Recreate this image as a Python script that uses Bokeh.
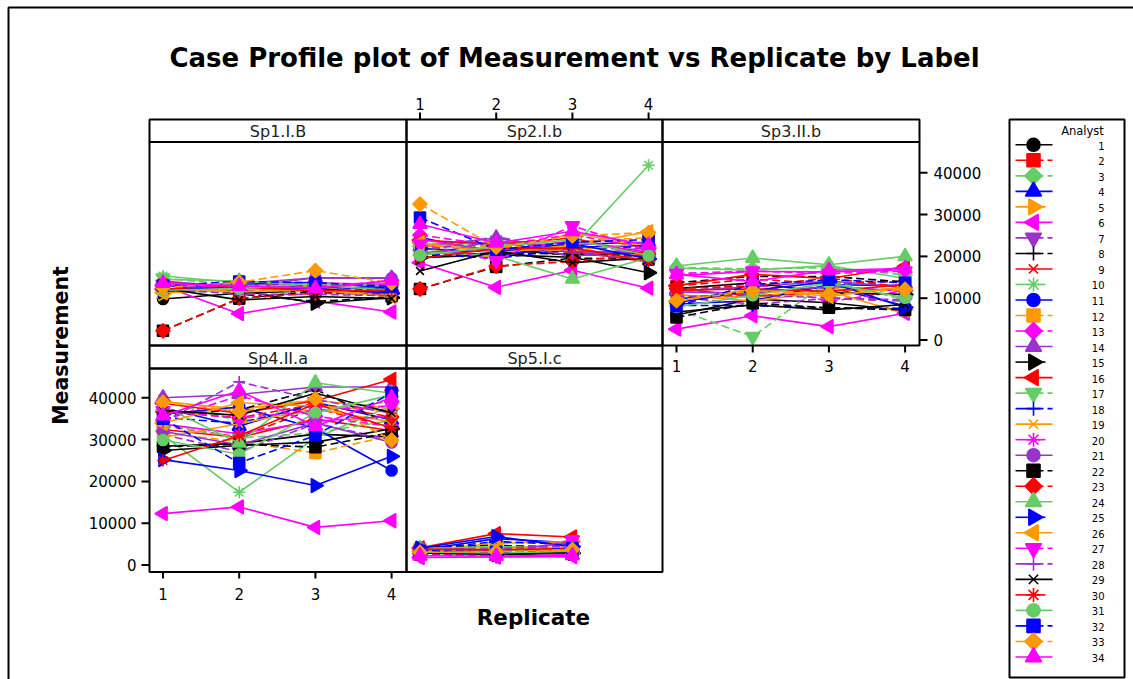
import math
from bokeh.plotting import figure
from bokeh.models import Range1d
from bokeh.embed import file_html
from bokeh.resources import INLINE
from bokeh.core.properties import value

# ---------------- data ----------------
replicates = [1, 2, 3, 4]
panel_labels = ["Sp1.I.B", "Sp2.I.b", "Sp3.II.b", "Sp4.II.a", "Sp5.I.c"]
analysts = list(range(1, 35))
x_ticks = [1, 2, 3, 4]
y_ticks = [0, 10000, 20000, 30000, 40000]

sp1 = [
    [9800, 11200, 11800, 10900], [12300, 12500, 12900, 12100], [13200, 13000, 12400, 11500],
    [12800, 13400, 12600, 12300], [11100, 13600, 12800, 10200], [13000, 6300, 9300, 6700],
    [12600, 11900, 12300, 11000], [13400, 11000, 9200, 10300], [13600, 12700, 12000, 11400],
    [15300, 13700, 13400, 12600], [12100, 13300, 13800, 12400], [11400, 12200, 11500, 10600],
    [12800, 12000, 12500, 14300], [14100, 12600, 14900, 14800], [11600, 11900, 8800, 10100],
    [12200, 12900, 11900, 11700], [14800, 13100, 12700, 12000], [12500, 13900, 13000, 11600],
    [12000, 11500, 12100, 10800], [13900, 12300, 13600, 13300], [12900, 13500, 14900, 14800],
    [2200, 9900, 11700, 10500], [2200, 10000, 11200, 11000], [14500, 14100, 13100, 11900],
    [11800, 12800, 12300, 11200], [11300, 12100, 12000, 10400], [13300, 12600, 12800, 13400],
    [12100, 11000, 10900, 10600], [12400, 9600, 10400, 9900], [13700, 12700, 11800, 11900],
    [11900, 12300, 13600, 12900], [13000, 14000, 13700, 12800], [12500, 13800, 16600, 13600],
    [13600, 12900, 12400, 14200],
]
sp2 = [
    [20500, 21800, 20300, 20800], [22800, 22500, 21500, 20600], [23500, 21000, 22400, 21200],
    [24600, 20600, 22900, 23400], [22000, 19700, 25700, 22000], [18500, 12600, 16700, 12400],
    [21600, 23300, 20500, 21700], [20000, 20800, 20600, 20000], [20900, 21700, 21200, 18700],
    [22200, 23600, 22100, 41800], [21200, 20300, 22200, 22600], [23000, 22100, 23500, 24500],
    [25100, 22600, 25200, 21800], [22400, 24400, 21200, 20900], [19700, 20400, 19800, 16100],
    [23900, 22900, 24400, 20300], [21700, 22800, 23800, 21300], [20700, 19500, 21800, 22400],
    [22600, 21700, 21400, 23300], [24100, 21300, 23700, 21000], [20100, 23800, 19900, 22200],
    [12200, 17500, 19600, 19300], [12200, 17700, 18800, 20600], [21200, 20100, 14600, 19700],
    [21900, 21000, 23100, 19400], [23300, 20800, 22700, 25900], [22900, 19000, 27300, 21500],
    [21000, 24800, 20800, 19200], [16500, 21300, 18500, 19600], [19500, 21900, 22000, 18900],
    [20300, 22300, 24000, 20200], [29300, 21600, 23400, 24000], [32500, 22200, 24900, 25700],
    [27700, 23200, 26000, 22700],
]
sp3 = [
    [6000, 9800, 8900, 7100], [12900, 14600, 13400, 14100], [17400, 17000, 17300, 15600],
    [9800, 11600, 12600, 8200], [10700, 10200, 12200, 11800], [2600, 5800, 3200, 6400],
    [10200, 8600, 9900, 9300], [13700, 15200, 15200, 13900], [12200, 10600, 11300, 10900],
    [17200, 16700, 17800, 14700], [8600, 9400, 13200, 13000], [9700, 10600, 11700, 12300],
    [11300, 13600, 9200, 11800], [11700, 12700, 14100, 12600], [12300, 13700, 11300, 10900],
    [13000, 15700, 14700, 17600], [7400, 800, 14200, 9600], [8300, 8200, 7700, 7600],
    [10900, 9300, 11700, 6300], [15400, 16400, 16300, 16800], [11500, 11100, 12800, 11700],
    [5400, 8800, 7700, 7200], [12300, 12900, 14800, 12600], [17700, 19600, 18000, 20000],
    [8900, 11900, 13900, 7800], [9200, 12300, 10400, 12800], [15900, 16500, 15900, 16500],
    [10400, 10700, 10100, 9600], [6700, 8400, 7200, 8500], [11900, 12200, 11600, 13300],
    [7900, 10700, 13600, 10100], [8100, 13300, 14400, 13700], [9400, 11800, 10900, 12100],
    [15700, 14000, 16700, 17100],
]
sp4 = [
    [28400, 29100, 31300, 30600], [33300, 30600, 37500, 32900], [39200, 34500, 36800, 39100],
    [37600, 33200, 38900, 34700], [39100, 37300, 39400, 37400], [12300, 13900, 9000, 10600],
    [31200, 27100, 33800, 30000], [35900, 37100, 42000, 33500], [32400, 30500, 34900, 32100],
    [31100, 17400, 30400, 38100], [36100, 37800, 32700, 22600], [31600, 29500, 26800, 31000],
    [34600, 40500, 35600, 33100], [40000, 40800, 42600, 42600], [27400, 28600, 29400, 32600],
    [38700, 36300, 39300, 44400], [33500, 30400, 31600, 34600], [35300, 33900, 38300, 36900],
    [30500, 33800, 37400, 34200], [33700, 31400, 34400, 35600], [32000, 28700, 34000, 29300],
    [28300, 28900, 28200, 31700], [36700, 35200, 38500, 35400], [38000, 29200, 43600, 41100],
    [25200, 22600, 19000, 26000], [33900, 38800, 38000, 36900], [36900, 35100, 37000, 38100],
    [34200, 43800, 39600, 36300], [37000, 35800, 41100, 36400], [25000, 30900, 38600, 32800],
    [29900, 26500, 36400, 40700], [35000, 24400, 31000, 41200], [38900, 36700, 39700, 29900],
    [35700, 41700, 33200, 40100],
]
sp5 = [
    [3300, 3700, 3500], [3800, 4400, 4700], [4000, 3800, 4200], [3600, 6300, 5300],
    [3400, 5200, 5600], [1800, 1900, 2000], [3200, 3100, 3400], [4200, 4700, 4000],
    [3500, 3900, 3200], [3700, 3400, 3900], [3100, 4100, 3800], [3900, 3600, 4500],
    [2700, 2400, 3000], [3400, 3800, 4300], [2900, 2500, 2800], [4100, 7500, 6700],
    [2900, 3200, 3600], [3700, 5600, 4900], [3000, 4300, 4100], [3300, 3000, 2500],
    [4300, 3500, 5300], [2600, 3300, 3100], [3600, 4000, 3300], [3900, 4500, 3700],
    [4000, 6800, 4400], [3200, 4000, 3500], [2400, 2300, 6000], [3500, 3900, 4600],
    [2800, 2700, 3000], [3800, 3600, 4000], [3100, 2900, 3300], [3400, 3100, 4000],
    [3000, 3200, 3700], [2200, 2100, 2300],
]
panel_values = [sp1, sp2, sp3, sp4, sp5]

# ---------------- styles ----------------
W, H = 1133, 679
FONT = value("DejaVu Sans")
COLORS = ["#000000", "#ff0000", "#66cc66", "#0000ff", "#ff9900", "#ff00ff", "#9933cc"]
DASHED = [False, True, True, False, False]
# (bokeh marker, size, angle, filled)
MARKERS = [
    ("circle", 11, 0.0, True),
    ("square", 11, 0.0, True),
    ("square", 10, math.pi / 4, True),
    ("triangle", 14, 0.0, True),
    ("triangle", 14, -math.pi / 2, True),
    ("triangle", 14, math.pi / 2, True),
    ("inverted_triangle", 14, 0.0, True),
    ("cross", 12, 0.0, False),
    ("x", 11, 0.0, False),
    ("asterisk", 12, 0.0, False),
]


def style(k):
    i = k - 1
    return COLORS[i % 7], DASHED[i % 5], MARKERS[i % 10]


p = figure(width=W, height=H, x_range=Range1d(0, W), y_range=Range1d(H, 0),
           min_border=0, x_axis_type=None, y_axis_type=None, title=None,
           toolbar_location=None, output_backend="svg", outline_line_color=None,
           background_fill_color="white", border_fill_color="white")

# panel geometry (screen pixels)
col_edges = [(149, 406), (406, 662), (662, 919)]
row_strip = [(119, 141.5), (345, 368)]
row_plot = [(141.5, 345), (368, 571.5)]
col_one_px = [162.5, 419.5, 676.0]
px_per_rep = 76.2
row_zero_px = [339.5, 564.5]
px_per_unit = 0.00418

for c in range(3):
    a = col_one_px[c]
    p.extra_x_ranges[f"c{c}"] = Range1d(1 - a / px_per_rep, 1 + (W - a) / px_per_rep)
for r in range(2):
    z = row_zero_px[r]
    p.extra_y_ranges[f"r{r}"] = Range1d(-(H - z) / px_per_unit, z / px_per_unit)

panel_pos = [(0, 0), (1, 0), (2, 0), (0, 1), (1, 1)]

# outer frame
p.quad(left=[8], right=[1140], top=[7], bottom=[690], fill_color=None,
       line_color="black", line_width=2)

# title & axis titles
p.text(x=[574], y=[57], text=["Case Profile plot of Measurement vs Replicate by Label"],
       text_font=FONT, text_font_style="bold", text_font_size="26px",
       text_align="center", text_baseline="middle", text_color="black")
p.text(x=[60], y=[345], text=["Measurement"], angle=math.pi / 2,
       text_font=FONT, text_font_style="bold", text_font_size="20.5px",
       text_align="center", text_baseline="middle", text_color="black")
p.text(x=[533], y=[617], text=["Replicate"],
       text_font=FONT, text_font_style="bold", text_font_size="21.5px",
       text_align="center", text_baseline="middle", text_color="black")

# data
for idx, (label, vals) in enumerate(zip(panel_labels, panel_values)):
    c, r = panel_pos[idx]
    xr, yr = f"c{c}", f"r{r}"
    for k, row in zip(analysts, vals):
        color, dashed, (mk, sz, ang, filled) = style(k)
        xs = replicates[:len(row)]
        p.line(xs, row, x_range_name=xr, y_range_name=yr, line_color=color,
               line_width=1.6, line_dash="8 4" if dashed else "solid")
        p.scatter(xs, row, x_range_name=xr, y_range_name=yr, marker=mk, size=sz,
                  angle=ang, line_color=color, fill_color=color if filled else None,
                  line_width=1.6)

# panel frames and strips
for idx, label in enumerate(panel_labels):
    c, r = panel_pos[idx]
    L, R = col_edges[c]
    st, sb = row_strip[r]
    pt, pb = row_plot[r]
    p.quad(left=[L], right=[R], top=[st], bottom=[sb], fill_color=None,
           line_color="black", line_width=2)
    p.quad(left=[L], right=[R], top=[pt], bottom=[pb], fill_color=None,
           line_color="black", line_width=2)
    p.text(x=[(L + R) / 2], y=[(st + sb) / 2 + 1], text=[label], text_font=FONT,
           text_font_size="16px", text_align="center", text_baseline="middle",
           text_color="#222222")

tick_txt = [str(t) for t in x_ticks]
ytick_txt = [str(t) for t in y_ticks]
TICK_FS = "15px"

# bottom axis under Sp4 (col 0, row 1)
p.segment(x0=x_ticks, x1=x_ticks, y0=[571.5] * 4, y1=[578] * 4, x_range_name="c0",
          line_color="black", line_width=2)
p.text(x=x_ticks, y=[593] * 4, text=tick_txt, x_range_name="c0", text_font=FONT,
       text_font_size=TICK_FS, text_align="center", text_baseline="middle")
# top axis over Sp2 (col 1)
p.segment(x0=x_ticks, x1=x_ticks, y0=[112] * 4, y1=[119] * 4, x_range_name="c1",
          line_color="black", line_width=2)
p.text(x=x_ticks, y=[103] * 4, text=tick_txt, x_range_name="c1", text_font=FONT,
       text_font_size=TICK_FS, text_align="center", text_baseline="middle")
# bottom axis under Sp3 (col 2, row 0)
p.segment(x0=x_ticks, x1=x_ticks, y0=[345] * 4, y1=[352] * 4, x_range_name="c2",
          line_color="black", line_width=2)
p.text(x=x_ticks, y=[365] * 4, text=tick_txt, x_range_name="c2", text_font=FONT,
       text_font_size=TICK_FS, text_align="center", text_baseline="middle")
# right axis for row 0
p.segment(x0=[919] * 5, x1=[927] * 5, y0=y_ticks, y1=y_ticks, y_range_name="r0",
          line_color="black", line_width=2)
p.text(x=[933] * 5, y=y_ticks, text=ytick_txt, y_range_name="r0", text_font=FONT,
       text_font_size=TICK_FS, text_align="left", text_baseline="middle")
# left axis for row 1
p.segment(x0=[141] * 5, x1=[149] * 5, y0=y_ticks, y1=y_ticks, y_range_name="r1",
          line_color="black", line_width=2)
p.text(x=[136] * 5, y=y_ticks, text=ytick_txt, y_range_name="r1", text_font=FONT,
       text_font_size=TICK_FS, text_align="right", text_baseline="middle")

# legend
p.quad(left=[1009], right=[1124], top=[119], bottom=[677], fill_color="white",
       line_color="black", line_width=2)
p.text(x=[1082], y=[130], text=["Analyst"], text_font=FONT, text_font_size="11.5px",
       text_align="center", text_baseline="middle")
for k in analysts:
    color, dashed, (mk, sz, ang, filled) = style(k)
    yy = 144.3 + (k - 1) * 15.52
    x_end = 1045 if k % 5 == 0 else 1052
    p.line([1015, x_end], [yy, yy], line_color=color, line_width=1.6,
           line_dash="28 4" if dashed else "solid")
    p.scatter([1033], [yy], marker=mk, size=sz + 2, angle=ang, line_color=color,
              fill_color=color if filled else None, line_width=1.6)
    p.text(x=[1104], y=[yy + 1], text=[str(k)], text_font=FONT, text_font_size="10px",
           text_align="right", text_baseline="middle")

open("out.html", "w").write(file_html(p, INLINE))
